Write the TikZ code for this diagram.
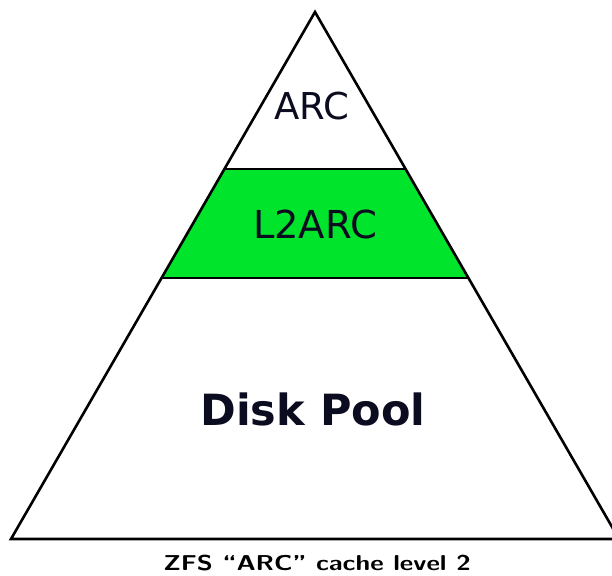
\documentclass[tikz,border=0pt]{standalone}
\usepackage{fontspec}
\newfontfamily\dejavu{DejaVu Sans}
\usetikzlibrary{calc}
\definecolor{layergreen}{RGB}{0,228,44}
\definecolor{labelink}{RGB}{12,12,32}
\tikzset{layer/.style={draw=black,line width=2.6pt,line join=miter}}

\begin{document}
\begin{tikzpicture}[x=1pt,y=-1pt,
                    lbl/.style = {text=labelink, inner sep=0pt, anchor=base,
                              font=\dejavu\fontsize{37}{40}\selectfont},
                    big/.style = {lbl, font=\dejavu\bfseries\fontsize{43}{46}\selectfont},
                    caption/.style = {inner sep=0pt, anchor=base,
                              font=\sffamily\bfseries\fontsize{21.5}{24}\selectfont}
               ]
               \useasboundingbox (0,0) rectangle (612,575);
               \clip (0,0) rectangle (612,575);
               \coordinate (top) at (315,12);
               \coordinate (bl)  at (11,539);
               \coordinate (br)  at (619,539);
               \def\tA{0.298} % ARC / L2ARC border
               \def\tB{0.505} % L2ARC / pool border
               % green band
               \fill[layergreen] ($(top)!\tA!(bl)$) coordinate (l1)
                    -- ($(top)!\tB!(bl)$) coordinate (l2)
                    -- ($(top)!\tB!(br)$) coordinate (r2)
                    -- ($(top)!\tA!(br)$) coordinate (r1) -- cycle;
               \draw[layer] (l1) -- (r1) (l2) -- (r2);
               \draw[layer] (top) -- (bl) -- (br) -- cycle;

               \node[lbl] (arc)   at (312,119) {ARC};
               \node[lbl, font=\dejavu\fontsize{38.5}{41}\selectfont] (l2arc) at (315,238) {L2ARC};
               \node[big] (pool)  at (313,425) {Disk Pool};
               \node[caption] (title) at (317,570) {\scalebox{1.22}[1]{ZFS ``ARC'' cache level 2}};
          \end{tikzpicture}
\end{document}
